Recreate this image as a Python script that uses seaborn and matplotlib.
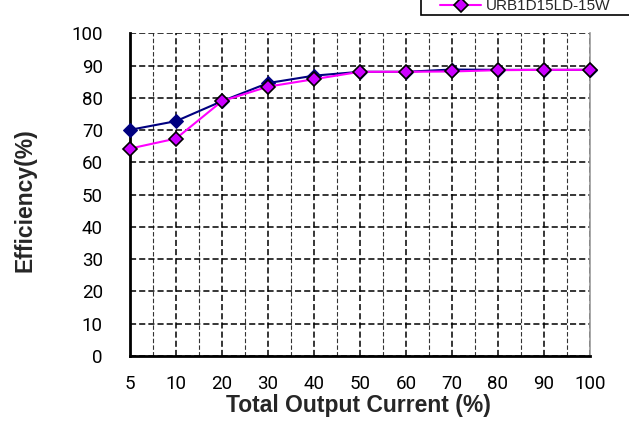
import pandas as pd
import matplotlib.pyplot as plt
import seaborn as sns
from matplotlib.ticker import MultipleLocator
from matplotlib.patches import Rectangle

# Данные
current = ["5", "10", "20", "30", "40", "50", "60", "70", "80", "90", "100"]
eff_blue = [70.1, 72.8, 79.0, 84.6, 86.9, 88.1, 88.1, 88.8, 88.7, 88.7, 88.7]
eff_pink = [64.3, 67.4, 79.0, 83.5, 85.8, 88.1, 88.1, 88.2, 88.6, 88.7, 88.7]
pink_name = "URB1D15LD-15W"

sns.set_style("white")
plt.rcParams["font.family"] = ["Liberation Sans", "DejaVu Sans"]

df = pd.DataFrame({"current": current, "blue": eff_blue, "pink": eff_pink})

fig = plt.figure(figsize=(6.29, 4.21), dpi=100)
ax = fig.add_axes([130 / 629, 1 - 356 / 421, 460 / 629, (356 - 33.4) / 421])

sns.lineplot(data=df, x="current", y="blue", ax=ax, sort=False, color="#000080",
             linewidth=1.5, marker="D", markersize=7, markerfacecolor="#000080",
             markeredgecolor="#000080", zorder=3, clip_on=False)
sns.lineplot(data=df, x="current", y="pink", ax=ax, sort=False, color="#ff00ff",
             linewidth=1.5, marker="D", markersize=7, markerfacecolor="#cc00ff",
             markeredgecolor="black", markeredgewidth=1.2, label=pink_name, zorder=4,
             clip_on=False)

ax.set_xlim(0, len(current) - 1)
ax.set_ylim(0, 100)
ax.yaxis.set_major_locator(MultipleLocator(10))
ax.xaxis.set_minor_locator(MultipleLocator(0.5))

ax.grid(True, which="major", axis="both", color="black", linestyle=(0, (4, 2)), linewidth=1.1)
ax.grid(True, which="minor", axis="x", color="#333333", linestyle=(0, (4, 2)), linewidth=0.8)

ax.tick_params(axis="both", which="both", length=0, labelsize=13.5, colors="black")
ax.tick_params(axis="x", pad=13.5)
ax.tick_params(axis="y", pad=19.5)
for lab in ax.get_xticklabels() + ax.get_yticklabels():
    lab.set_fontfamily(["Roboto", "DejaVu Sans"])
    lab.set_fontweight("normal")

ax.spines["left"].set_linewidth(2)
ax.spines["bottom"].set_linewidth(2)
ax.spines["left"].set_color("black")
ax.spines["bottom"].set_color("black")
ax.spines["top"].set_visible(False)
ax.spines["right"].set_color("#999999")
ax.spines["right"].set_linewidth(1.2)

ax.set_xlabel("Total Output Current (%)", fontsize=16.5, fontweight="bold", va="center")
ax.set_ylabel("Efficiency(%)", fontsize=16.5, fontweight="bold", va="center")
ax.xaxis.set_label_coords(0.496, -0.152)
ax.yaxis.set_label_coords(-0.228, 0.484)

# легенда: верхняя часть рамки уходит за край рисунка
handles, labels = ax.get_legend_handles_labels()
ax.get_legend().remove()
fig.patches.append(Rectangle((421 / 629, 1 - 15 / 421), 0.5, 0.2, transform=fig.transFigure,
                             facecolor="white", edgecolor="black", linewidth=1.2, zorder=5))
leg = fig.legend(handles, labels, loc="center left", bbox_to_anchor=(440 / 629, 1 - 6 / 421),
                 fontsize=11, frameon=False, handlelength=2.7, handletextpad=0.3,
                 borderpad=0, borderaxespad=0)
leg.set_zorder(6)

fig.savefig("out.png", dpi=100)
plt.close(fig)
